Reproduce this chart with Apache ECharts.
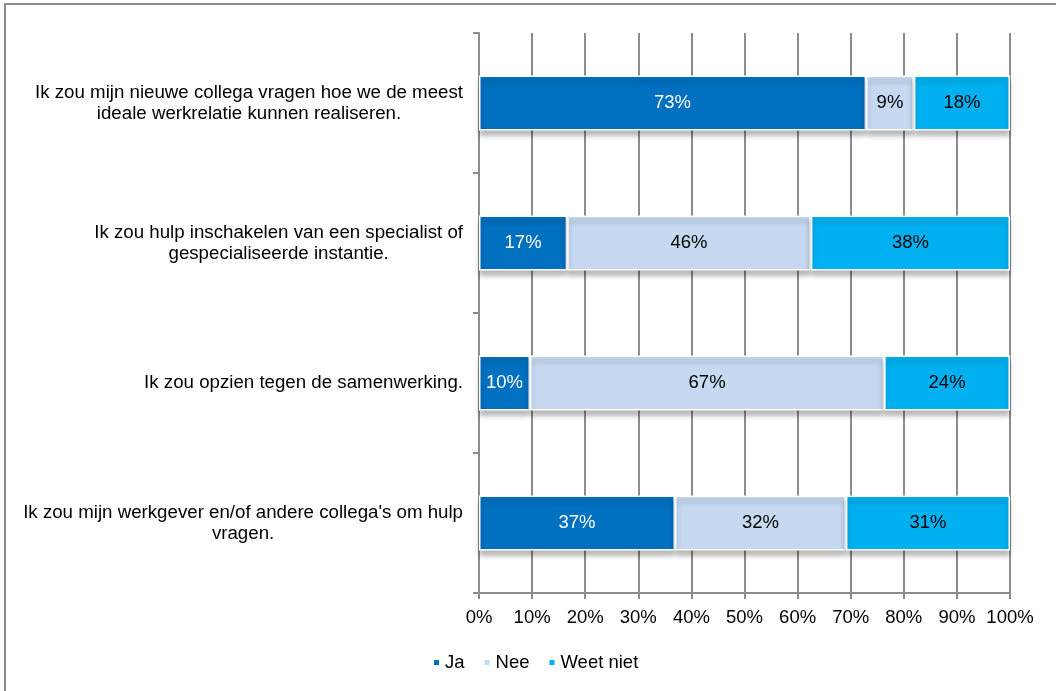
<!DOCTYPE html>
<html>
<head>
<meta charset="utf-8">
<script src="https://cdn.jsdelivr.net/npm/echarts@6/dist/echarts.min.js"></script>
<style>
  html, body { margin: 0; padding: 0; background: #fff; }
  #wrap { position: relative; width: 1056px; height: 691px; overflow: hidden; }
  #frame { position: absolute; left: 4px; top: 3px; right: -10px; bottom: -10px;
           border-top: 2px solid #8c8c8c; border-left: 2px solid #8c8c8c; }
  #chart { position: absolute; left: 0; top: 0; width: 1056px; height: 691px; }
</style>
</head>
<body>
<div id="wrap">
  <div id="frame"></div>
  <div id="chart"></div>
</div>
<script>
// Statements shown on the category axis (top to bottom)
const categories = [
  "Ik zou mijn nieuwe collega vragen hoe we de meest\nideale werkrelatie kunnen realiseren.",
  "Ik zou hulp inschakelen van een specialist of\ngespecialiseerde instantie.",
  "Ik zou opzien tegen de samenwerking.",
  "Ik zou mijn werkgever en/of andere collega's om hulp\nvragen."
];

// Answer shares in percent per statement
const ja       = [72.9, 16.6,  9.6, 36.9];
const nee      = [ 9.0, 45.9, 66.7, 32.2];
const weetNiet = [18.1, 37.5, 23.7, 30.9];

const seriesNames = ["Ja", "Nee", "Weet niet"];
const seriesColors = ["#0070C0", "#C6D9F1", "#00B0F0"];
const labelColors = ["#ffffff", "#000000", "#000000"];

const FONT = "'Liberation Sans', Arial, sans-serif";
const FS = 18.5;
const CAT_FS = 18.7;
const GRIDLINE = "#8c8c8c";

const chart = echarts.init(document.getElementById('chart'), null, { renderer: 'canvas' });

function makeSeries(name, data, idx) {
  return {
    name: name,
    type: 'bar',
    stack: 'total',
    data: data,
    barWidth: 55,
    itemStyle: {
      color: seriesColors[idx],
      borderColor: '#ffffff',
      borderWidth: 1.5,
      shadowColor: 'rgba(0,0,0,0.28)',
      shadowBlur: 5,
      shadowOffsetY: 5
    },
    label: {
      show: true,
      position: 'inside',
      formatter: p => Math.round(p.value) + '%',
      color: labelColors[idx],
      fontFamily: FONT,
      fontSize: FS
    },
    emphasis: { disabled: true }
  };
}

chart.setOption({
  animation: false,
  textStyle: { fontFamily: FONT },
  grid: { left: 479, right: 46, top: 33, bottom: 98, containLabel: false },
  legend: {
    data: seriesNames,
    left: 427,
    top: 648,
    icon: 'rect',
    itemWidth: 7,
    itemHeight: 7,
    itemGap: 18,
    textStyle: { fontFamily: FONT, fontSize: FS, color: '#000' }
  },
  xAxis: {
    type: 'value',
    min: 0,
    max: 100,
    interval: 10,
    axisLine: { show: true, lineStyle: { color: GRIDLINE, width: 2 } },
    axisTick: { show: true, length: 6, lineStyle: { color: GRIDLINE, width: 2 } },
    splitLine: { show: true, lineStyle: { color: GRIDLINE, width: 2 } },
    axisLabel: {
      formatter: '{value}%',
      margin: 15,
      color: '#000',
      fontFamily: FONT,
      fontSize: FS
    }
  },
  yAxis: {
    type: 'category',
    inverse: true,
    data: categories,
    axisLine: { show: true, lineStyle: { color: GRIDLINE, width: 2 } },
    axisTick: { show: true, length: 6, lineStyle: { color: GRIDLINE, width: 2 } },
    axisLabel: {
      margin: 16,
      align: 'right',
      formatter: v => v.split('\n').map(l => '{c|' + l + '}').join('\n'),
      rich: {
        c: { align: 'center', fontFamily: FONT, fontSize: CAT_FS, lineHeight: 21, color: '#000' }
      }
    }
  },
  series: [
    makeSeries(seriesNames[0], ja, 0),
    makeSeries(seriesNames[1], nee, 1),
    makeSeries(seriesNames[2], weetNiet, 2)
  ]
});
</script>
</body>
</html>
